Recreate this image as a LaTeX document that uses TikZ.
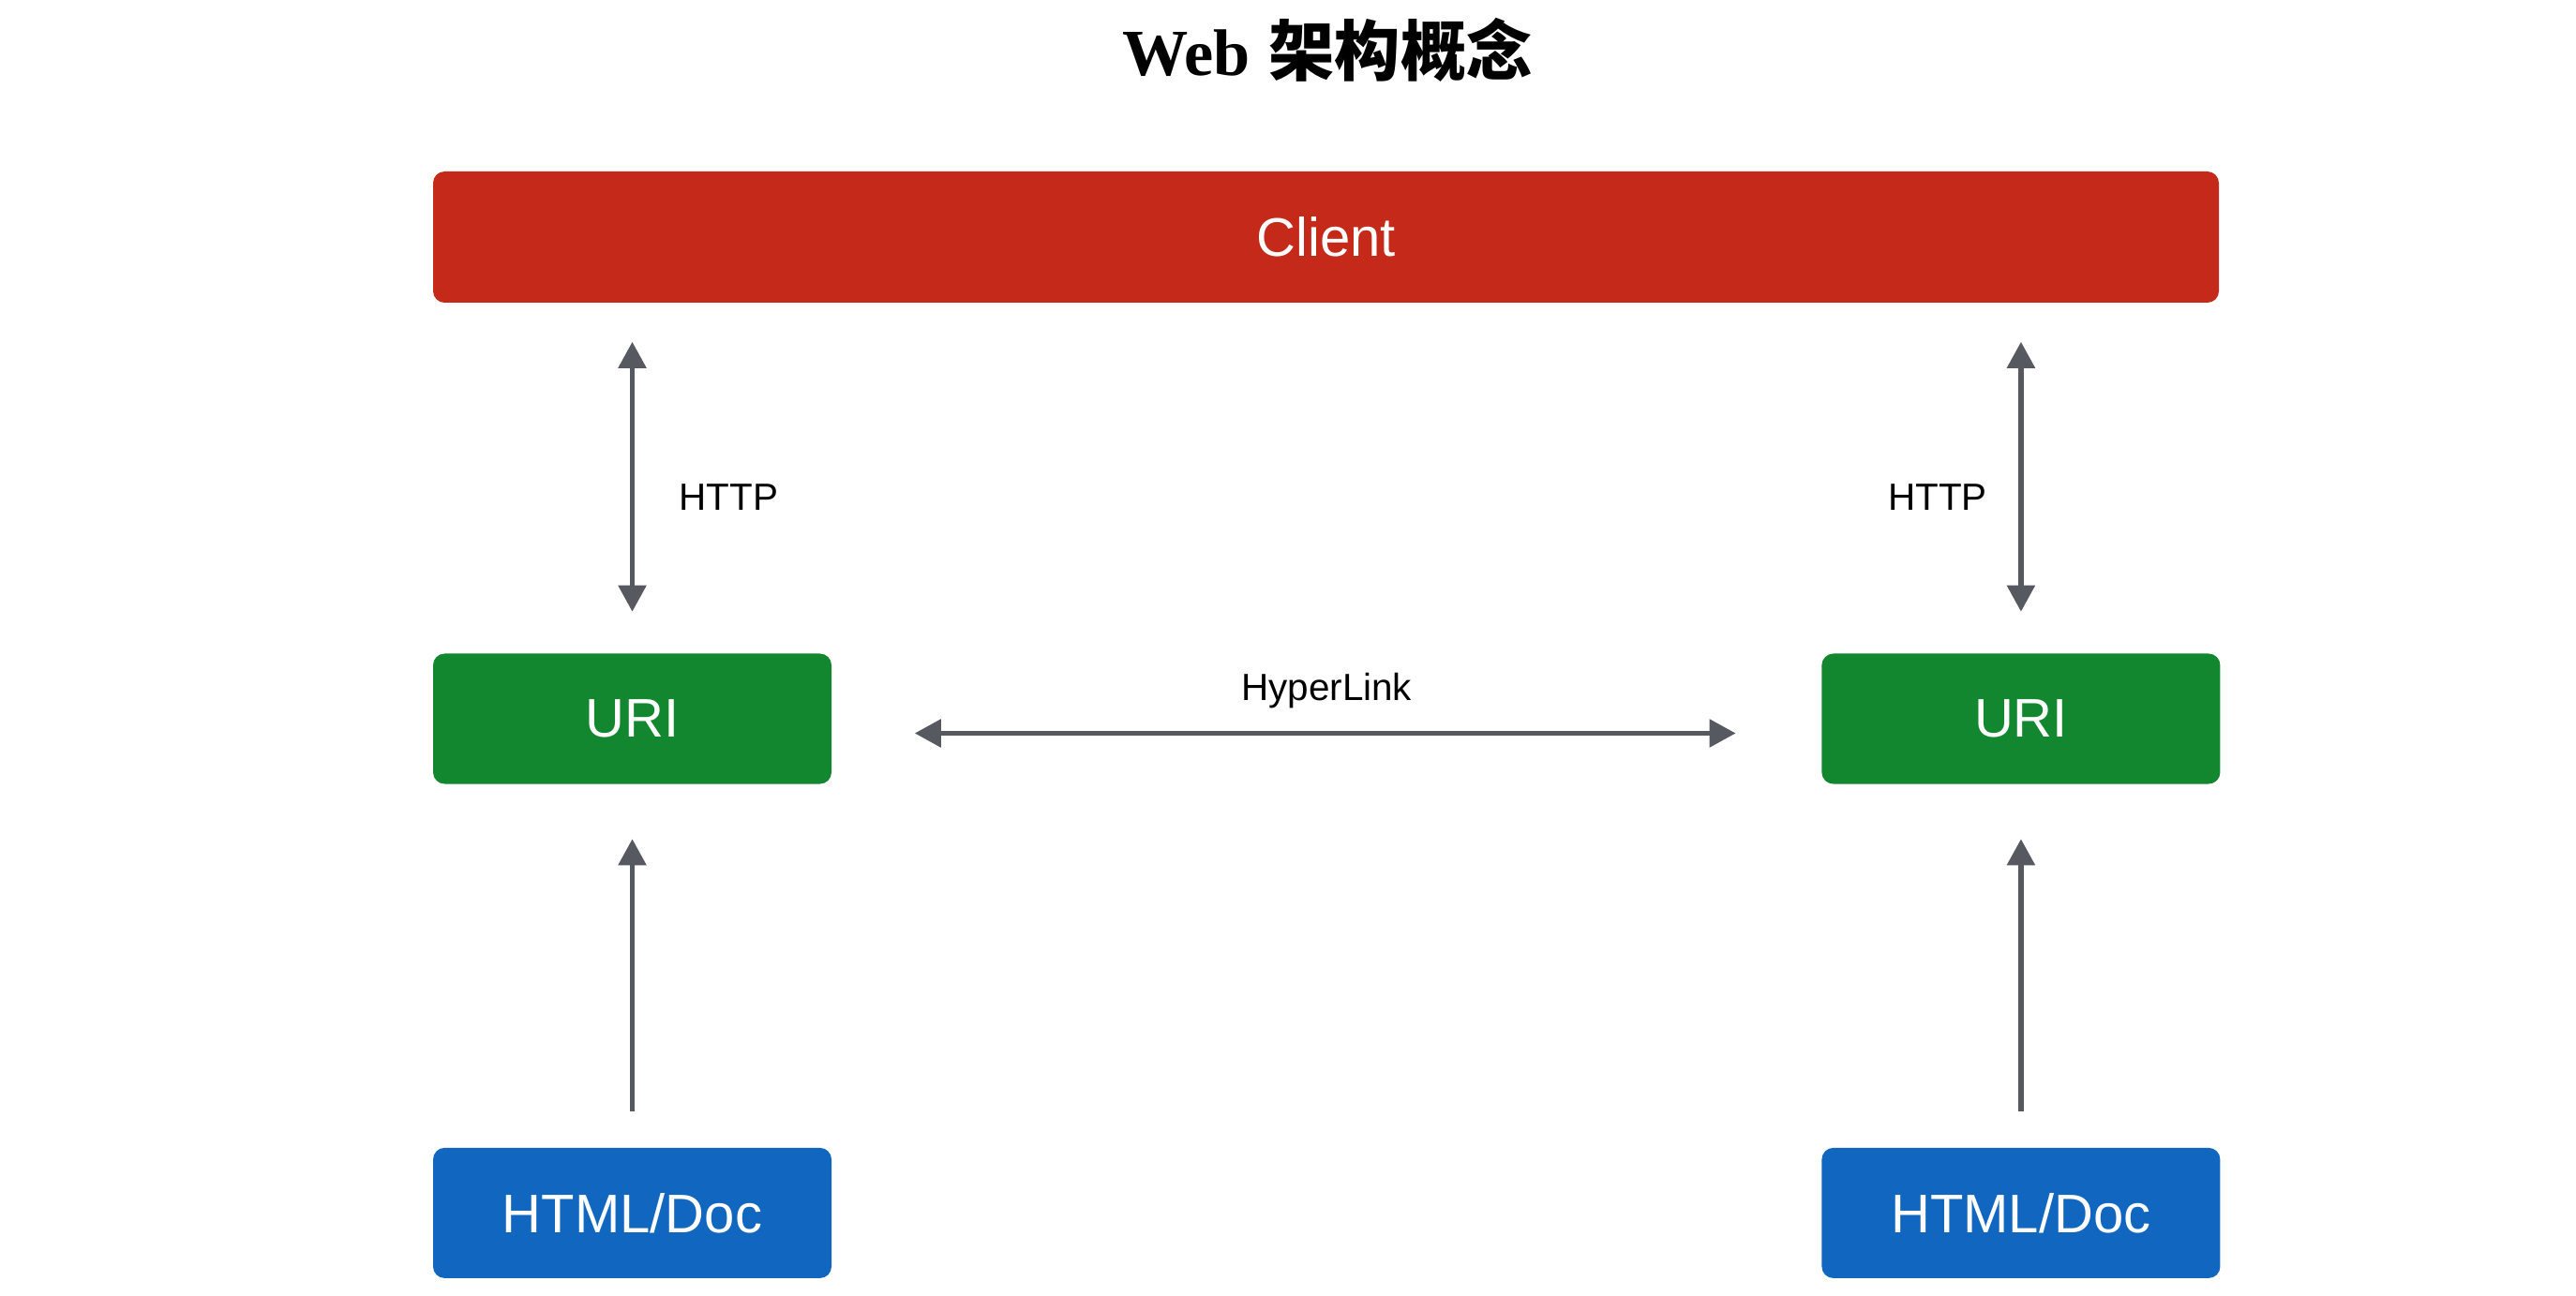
\documentclass[tikz,border=0pt]{standalone}
\usepackage{fontspec}
\setmainfont{Liberation Sans}
\newfontfamily\titlefont{Liberation Serif}
\newfontfamily\cjk{Noto Sans CJK SC}
\usetikzlibrary{positioning, shapes, arrows.meta}

\definecolor{clientred}{HTML}{C4291A}
\definecolor{urigreen}{HTML}{12872F}
\definecolor{docblue}{HTML}{1166BF}
\definecolor{linkgray}{HTML}{56595F}

\tikzset{
  box/.style={rectangle, rounded corners=3.5pt, text=white,
    font=\fontsize{16.5}{20}\selectfont, minimum width=4.25cm, minimum height=1.39cm},
  link/.style={draw=linkgray, line width=1.7pt},
  lbl/.style={inner sep=0pt, text=black, font=\fontsize{11.5}{14}\selectfont}
}

\begin{document}
\begin{tikzpicture}[>={Triangle[width=8.2pt,length=8pt]}]
  \useasboundingbox (0,0) rectangle (27.48,13.82);

  % Create nodes
  \node (T) at (14.16,13.29) {\fontsize{20}{24}\selectfont{\titlefont\bfseries Web} {\cjk\bfseries 架构概念}};
  \node[box, fill=clientred, minimum width=19.05cm, minimum height=1.4cm] (C) at (14.145,11.29) {Client};
  \node[box, fill=urigreen] (U1) at (6.745,6.15) {URI};
  \node[box, fill=urigreen] (U2) [right = 10.55cm of U1] {URI};
  \node[box, fill=docblue] (H1) [below = 3.87cm of U1] {HTML/Doc};
  \node[box, fill=docblue] (H2) [below = 3.87cm of U2] {HTML/Doc};

  % 
  \path (U1 |- C.south) edge [link, <->, shorten <=0.41cm, shorten >=0.44cm]
    node[lbl, right=0.47cm, yshift=-2mm] {HTTP} (U1);
  \path (U2 |- C.south) edge [link, <->, shorten <=0.41cm, shorten >=0.44cm]
    node[lbl, left=0.33cm, yshift=-2mm] {HTTP} (U2);
  \path ([yshift=-1.55mm]U1.east) edge [link, <->, shorten <=0.88cm, shorten >=0.91cm]
    node[lbl, above=0.24cm] {HyperLink} ([yshift=-1.55mm]U2.west);
  \path (H1) edge [link, ->, shorten <=0.38cm, shorten >=0.58cm] (U1);
  \path (H2) edge [link, ->, shorten <=0.38cm, shorten >=0.58cm] (U2);
\end{tikzpicture}
\end{document}
